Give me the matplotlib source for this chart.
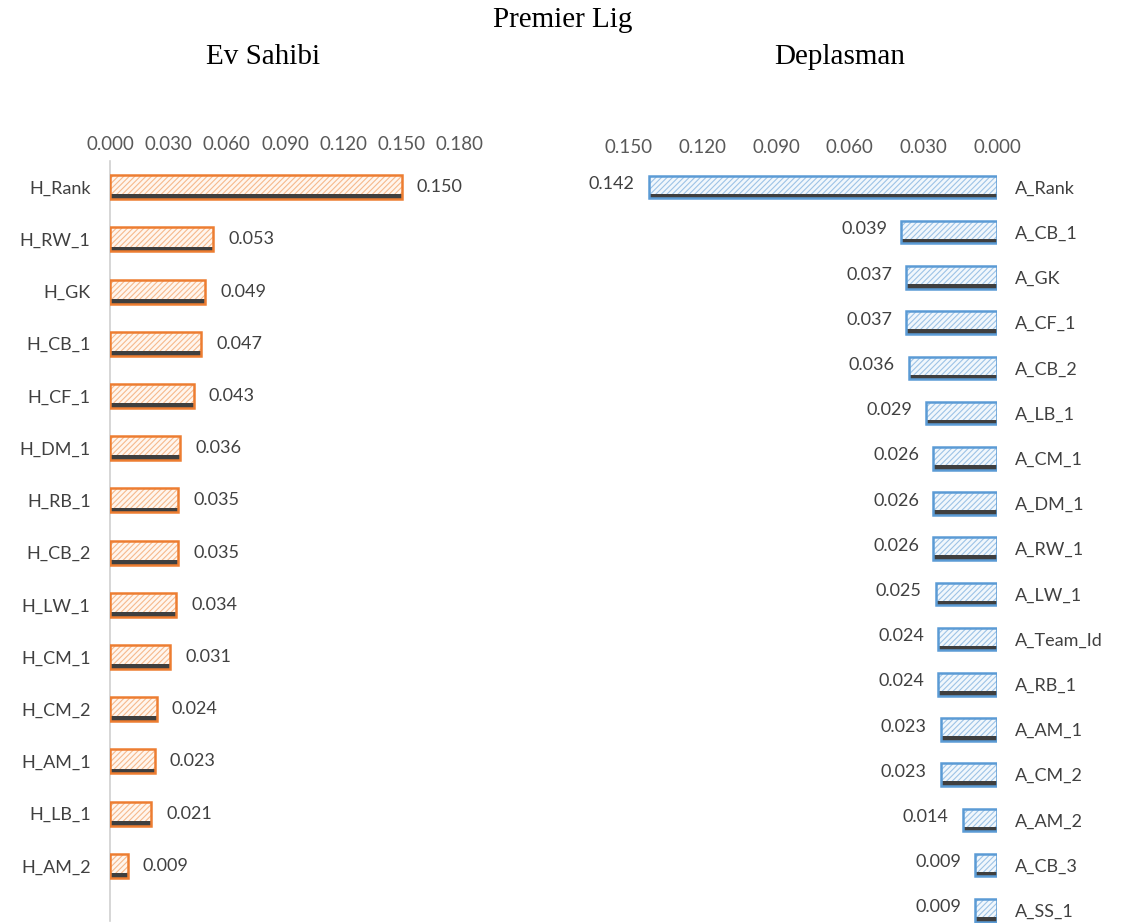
import matplotlib.pyplot as plt
import numpy as np

# data
home_labels = ["H_Rank", "H_RW_1", "H_GK", "H_CB_1", "H_CF_1", "H_DM_1", "H_RB_1",
               "H_CB_2", "H_LW_1", "H_CM_1", "H_CM_2", "H_AM_1", "H_LB_1", "H_AM_2"]
home_values = [0.150, 0.053, 0.049, 0.047, 0.043, 0.036, 0.035,
               0.035, 0.034, 0.031, 0.024, 0.023, 0.021, 0.009]

away_labels = ["A_Rank", "A_CB_1", "A_GK", "A_CF_1", "A_CB_2", "A_LB_1", "A_CM_1",
               "A_DM_1", "A_RW_1", "A_LW_1", "A_Team_Id", "A_RB_1", "A_AM_1",
               "A_CM_2", "A_AM_2", "A_CB_3", "A_SS_1"]
away_values = [0.142, 0.039, 0.037, 0.037, 0.036, 0.029, 0.026,
               0.026, 0.026, 0.025, 0.024, 0.024, 0.023, 0.023, 0.014, 0.009, 0.009]

home_ticks = [0.000, 0.030, 0.060, 0.090, 0.120, 0.150, 0.180]
away_ticks = [0.150, 0.120, 0.090, 0.060, 0.030, 0.000]

plt.rcParams['font.family'] = ['Lato', 'DejaVu Sans']
plt.rcParams['hatch.linewidth'] = 0.8

W, H = 1127, 923
fig = plt.figure(figsize=(W / 100, H / 100), dpi=100)

gray = "#595959"
txt = "#404040"
shadow = "#3f3f3f"


def draw(ax, labels, values, edge, hatch_col, face, bar_h):
    y = np.arange(len(values))
    # light hatched fill
    ax.barh(y, values, height=bar_h, color=face, edgecolor=hatch_col, hatch="//////",
            linewidth=0, zorder=2)
    # dark bottom strip
    ax.barh(y + bar_h / 2 - bar_h * 0.1, values, height=bar_h * 0.2, color=shadow,
            linewidth=0, zorder=3)
    # outline
    ax.barh(y, values, height=bar_h, fill=False, edgecolor=edge, linewidth=1.8, zorder=4)
    ax.set_yticks(y)
    ax.set_yticklabels(labels, fontsize=13, color=txt)
    ax.tick_params(axis="y", length=0, pad=14)
    ax.xaxis.tick_top()
    ax.tick_params(axis="x", length=0, labelsize=13.5, labelcolor=gray, pad=6)
    for s in ["top", "bottom", "right", "left"]:
        ax.spines[s].set_visible(False)
    return y


# left chart
ax1 = fig.add_axes([110 / W, 1 - 892 / H, 350 / W, (892 - 161) / H])
y1 = draw(ax1, home_labels, home_values, "#ED7D31", "#F6B98C", "#FFF6EE", 0.46)
ax1.set_xlim(0, 0.18)
ax1.set_ylim(len(home_values) - 0.5, -0.5)
ax1.set_xticks(home_ticks)
ax1.set_xticklabels([f"{t:.3f}" for t in home_ticks])
ax1.axvline(0, color="#d0d0d0", linewidth=1.2, ymin=-0.04, ymax=1.0, clip_on=False, zorder=1)
for yi, v in zip(y1, home_values):
    ax1.annotate(f"{v:.3f}", (v, yi), xytext=(11, 0), textcoords="offset points",
                 va="center", ha="left", fontsize=13, color=txt)

# right chart
row = 45.2
top = 187 - row / 2
ax2 = fig.add_axes([629 / W, 0, 368 / W, 1 - top / H])
y2 = draw(ax2, away_labels, away_values, "#5B9BD5", "#9DC3E6", "#F1F7FC", 0.5)
ax2.set_xlim(0.15, 0)
ax2.set_ylim(-0.5 + (H - top) / row, -0.5)
ax2.set_xticks(away_ticks)
ax2.set_xticklabels([f"{t:.3f}" for t in away_ticks])
ax2.yaxis.tick_right()
ax2.tick_params(axis="y", pad=13)
for lbl in ax2.get_yticklabels():
    lbl.set_horizontalalignment("left")
for yi, v in zip(y2, away_values):
    ax2.annotate(f"{v:.3f}", (v, yi), xytext=(-10, 2), textcoords="offset points",
                 va="center", ha="right", fontsize=13, color=txt)

# titles
fig.text(563 / W, 1 - 20 / H, "Premier Lig", ha="center", va="center",
         fontsize=21, family="Liberation Serif")
fig.text(263 / W, 1 - 57 / H, "Ev Sahibi", ha="center", va="center",
         fontsize=21, family="Liberation Serif")
fig.text(840 / W, 1 - 57 / H, "Deplasman", ha="center", va="center",
         fontsize=21, family="Liberation Serif")

plt.savefig("out.png", dpi=100)
